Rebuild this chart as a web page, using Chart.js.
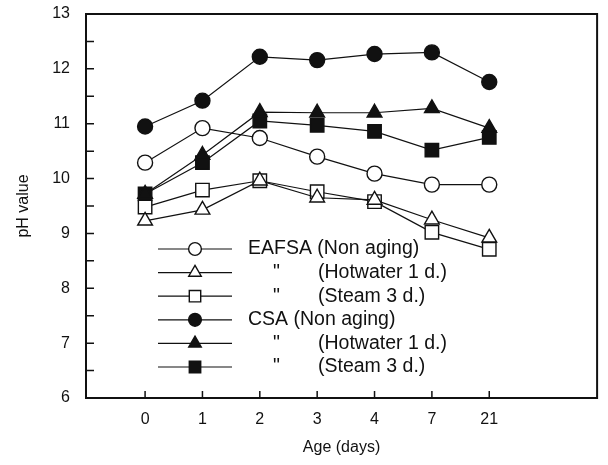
<!DOCTYPE html>
<html>
<head>
<meta charset="utf-8">
<script src="https://cdn.jsdelivr.net/npm/chart.js@4/dist/chart.umd.min.js"></script>
<style>
  html, body { margin: 0; padding: 0; background: #fff; }
  #wrap { width: 608px; height: 465px; }
</style>
</head>
<body>
<div id="wrap"><canvas id="phChart" width="608" height="465"></canvas></div>
<script>
// Age categories (equally spaced on the x axis)
const ages = ['0', '1', '2', '3', '4', '7', '21'];

// pH values
const eafsaNonAging = [10.29, 10.92, 10.74, 10.40, 10.09, 9.89, 9.89];
const eafsaHotwater = [9.23, 9.43, 9.96, 9.65, 9.61, 9.25, 8.92];
const eafsaSteam    = [9.48, 9.79, 9.96, 9.76, 9.58, 9.02, 8.71];
const csaNonAging   = [10.95, 11.42, 12.22, 12.16, 12.27, 12.30, 11.76];
const csaHotwater   = [9.72, 10.43, 11.21, 11.20, 11.20, 11.28, 10.92];
const csaSteam      = [9.72, 10.29, 11.05, 10.97, 10.86, 10.52, 10.75];

// Legend text: prefix (name or ditto mark) and condition
const legendPrefix = ['EAFSA', '"', '"', 'CSA', '"', '"'];
const legendCondition = ['(Non aging)', '(Hotwater 1 d.)', '(Steam 3 d.)', '(Non aging)', '(Hotwater 1 d.)', '(Steam 3 d.)'];

const yTicks = { min: 6, max: 13, step: 0.5 };

const FONT = '"Liberation Sans", Arial, sans-serif';
const INK = '#111';

function toPoints(values) {
  return values.map((v, i) => ({ x: i, y: v }));
}

function makeDataset(label, values, style, radius, filled) {
  return {
    label: label,
    data: toPoints(values),
    borderColor: INK,
    borderWidth: 1.2,
    pointStyle: style,
    pointRadius: radius,
    pointHoverRadius: radius,
    pointBorderWidth: 1.4,
    pointBorderColor: INK,
    pointBackgroundColor: filled ? INK : '#fff',
    tension: 0,
    fill: false
  };
}

const datasets = [
  makeDataset('EAFSA (Non aging)', eafsaNonAging, 'circle', 7.5, false),
  makeDataset('EAFSA (Hotwater 1 d.)', eafsaHotwater, 'triangle', 8.5, false),
  makeDataset('EAFSA (Steam 3 d.)', eafsaSteam, 'rect', 9.5, false),
  makeDataset('CSA (Non aging)', csaNonAging, 'circle', 7.5, true),
  makeDataset('CSA (Hotwater 1 d.)', csaHotwater, 'triangle', 8.5, true),
  makeDataset('CSA (Steam 3 d.)', csaSteam, 'rect', 9.5, true)
];

// Frame, inward tick marks and the in-plot legend
const framePlugin = {
  id: 'framePlugin',
  afterDraw(chart) {
    const ctx = chart.ctx;
    const area = chart.chartArea;
    const xScale = chart.scales.x;
    const yScale = chart.scales.y;

    ctx.save();
    ctx.strokeStyle = INK;
    ctx.lineWidth = 2;
    ctx.strokeRect(area.left, area.top, area.right - area.left, area.bottom - area.top);

    ctx.lineWidth = 1.5;
    ctx.beginPath();
    yScale.ticks.forEach(t => {
      const y = yScale.getPixelForValue(t.value);
      if (t.value <= yTicks.min || t.value >= yTicks.max) return;
      ctx.moveTo(area.left, y);
      ctx.lineTo(area.left + 8, y);
    });
    xScale.ticks.forEach(t => {
      const x = xScale.getPixelForValue(t.value);
      ctx.moveTo(x, area.bottom);
      ctx.lineTo(x, area.bottom - 7);
    });
    ctx.stroke();

    // legend
    const rowTop = area.top + 235;
    const rowStep = 23.6;
    ctx.font = '19.5px ' + FONT;
    ctx.textBaseline = 'middle';
    ctx.fillStyle = INK;
    chart.data.datasets.forEach((ds, i) => {
      const y = rowTop + i * rowStep;
      const x0 = area.left + 72;
      const x1 = area.left + 146;
      const xm = area.left + 109;
      ctx.strokeStyle = INK;
      ctx.lineWidth = 1.2;
      ctx.beginPath();
      ctx.moveTo(x0, y);
      ctx.lineTo(x1, y);
      ctx.stroke();
      ctx.lineWidth = ds.pointBorderWidth;
      ctx.fillStyle = ds.pointBackgroundColor;
      Chart.helpers.drawPoint(ctx, { pointStyle: ds.pointStyle, radius: ds.pointRadius * 0.85, rotation: 0, borderWidth: ds.pointBorderWidth }, xm, y);
      ctx.fillStyle = INK;
      if (legendPrefix[i] === '"') {
        ctx.fillText('"', area.left + 187, y);
        ctx.fillText(legendCondition[i], area.left + 232, y);
      } else {
        ctx.fillText(legendPrefix[i] + ' ' + legendCondition[i], area.left + 162, y);
      }
    });
    ctx.restore();
  }
};

new Chart(document.getElementById('phChart'), {
  type: 'line',
  data: { datasets: datasets },
  options: {
    responsive: false,
    animation: false,
    devicePixelRatio: 1,
    layout: { padding: { top: 14, right: 10, bottom: 0, left: 0 } },
    plugins: {
      legend: { display: false },
      tooltip: { enabled: false }
    },
    scales: {
      x: {
        type: 'linear',
        min: -1.03,
        max: 7.88,
        afterBuildTicks: scale => {
          scale.ticks = ages.map((_, i) => ({ value: i }));
        },
        afterFit: scale => { scale.height = 67; },
        grid: { display: false, drawTicks: false },
        border: { display: false },
        ticks: {
          color: INK,
          font: { family: FONT, size: 16 },
          padding: 12,
          callback: value => ages[value]
        },
        title: {
          display: true,
          text: 'Age (days)',
          color: INK,
          font: { family: FONT, size: 16 },
          padding: { top: 0, bottom: 8 }
        }
      },
      y: {
        min: yTicks.min,
        max: yTicks.max,
        afterFit: scale => {
          scale.width = 86;
          scale.paddingTop = 0;
          scale.paddingBottom = 0;
        },
        grid: { display: false, drawTicks: false },
        border: { display: false },
        ticks: {
          stepSize: yTicks.step,
          color: INK,
          font: { family: FONT, size: 16 },
          padding: 16,
          autoSkip: false,
          callback: value => Number.isInteger(value) ? String(value) : ''
        },
        title: {
          display: true,
          text: 'pH value',
          color: INK,
          font: { family: FONT, size: 16 },
          padding: { top: 14, bottom: 0 }
        }
      }
    }
  },
  plugins: [framePlugin]
});
</script>
</body>
</html>
